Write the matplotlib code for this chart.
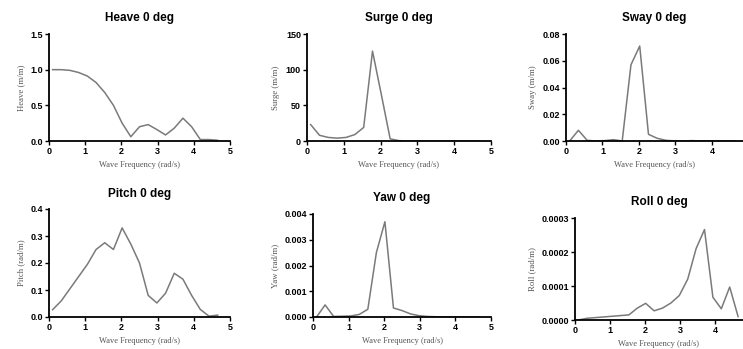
import numpy as np
import matplotlib.pyplot as plt

# wave frequency grid (rad/s)
freq = [0.1, 0.34, 0.58, 0.82, 1.06, 1.3, 1.54, 1.78, 2.02, 2.26,
        2.5, 2.74, 2.98, 3.22, 3.46, 3.7, 3.94, 4.18, 4.42, 4.66]

heave = [1.0, 1.0, 0.99, 0.96, 0.91, 0.82, 0.68, 0.5, 0.25, 0.06,
         0.2, 0.23, 0.16, 0.085, 0.18, 0.32, 0.2, 0.02, 0.02, 0.01]
surge = [23, 8, 5, 4, 5, 9, 19, 126, 65, 3,
         0.5, 0, 0, 0, 0, 0, 0, 0, 0, 0]
sway = [0.0, 0.008, 0.0005, 0.0, 0.0003, 0.001, 0.0, 0.057, 0.071, 0.005,
        0.002, 0.0005, 0.0001, 0.0, 0.0003, 0.0, 0.0, 0.0, 0.0, 0.0]
pitch = [0.027, 0.06, 0.105, 0.15, 0.195, 0.25, 0.275, 0.25, 0.33, 0.27,
         0.2, 0.08, 0.052, 0.088, 0.162, 0.14, 0.08, 0.028, 0.003, 0.007]
yaw = [0.0, 0.00047, 0.00002, 0.00003, 0.00004, 0.0001, 0.0003, 0.0025, 0.0037, 0.00035,
       0.00025, 0.00012, 0.00005, 0.00002, 0.00001, 0.0, 0.0, 0.0, 0.0, 0.0]
roll = [0.0, 0.000005, 0.000007, 0.000009, 0.000011, 0.000013, 0.000015, 0.000035, 0.000049, 0.000027,
        0.000035, 0.00005, 0.000072, 0.00012, 0.00021, 0.000266, 0.000067, 0.000033, 0.000097, 0.00001]

titles = ['Heave 0 deg', 'Surge 0 deg', 'Sway 0 deg', 'Pitch 0 deg', 'Yaw 0 deg', 'Roll 0 deg']
ylabels = ['Heave (m/m)', 'Surge (m/m)', 'Sway (m/m)', 'Pitch (rad/m)', 'Yaw (rad/m)', 'Roll (rad/m)']
series = [heave, surge, sway, pitch, yaw, roll]
yticks = [[0, 0.5, 1.0, 1.5], [0, 50, 100, 150], [0, 0.02, 0.04, 0.06, 0.08],
          [0, 0.1, 0.2, 0.3, 0.4], [0, 0.001, 0.002, 0.003, 0.004], [0, 0.0001, 0.0002, 0.0003]]
yfmt = ['{:.1f}', '{:.0f}', '{:.2f}', '{:.1f}', '{:.3f}', '{:.4f}']
xmax = [5, 5, 4.85, 5, 5, 4.8]
xticks = [[0, 1, 2, 3, 4, 5], [0, 1, 2, 3, 4, 5], [0, 1, 2, 3, 4],
          [0, 1, 2, 3, 4, 5], [0, 1, 2, 3, 4, 5], [0, 1, 2, 3, 4]]

W, H = 743, 349
# axes boxes in pixels: left, right, top, bottom
boxes = [(49, 230, 34, 141), (307, 491, 34, 141), (566, 743, 34, 141),
         (49, 230, 209, 317), (313, 491, 214, 317), (575, 743, 218, 320)]

fig = plt.figure(figsize=(W / 100, H / 100), dpi=100)
tickfont = dict(family='Liberation Sans', weight='bold', size=6.5)

for i in range(6):
    l, r, t, b = boxes[i]
    ax = fig.add_axes([l / W, 1 - b / H, (r - l) / W, (b - t) / H])
    ax.plot(freq, series[i], color='#7a7a7a', lw=1.1)
    ax.set_xlim(0, xmax[i])
    ax.set_ylim(0, yticks[i][-1])
    ax.set_xticks(xticks[i])
    ax.set_yticks(yticks[i])
    ax.set_xticklabels([str(v) for v in xticks[i]], **tickfont)
    ax.set_yticklabels([yfmt[i].format(v) for v in yticks[i]], **tickfont)
    for s in ['top', 'right']:
        ax.spines[s].set_visible(False)
    for s in ['left', 'bottom']:
        ax.spines[s].set_linewidth(1.3)
    ax.tick_params(width=1.0, length=2.8, pad=1.5)
    ax.set_title(titles[i], family='Liberation Sans', weight='bold', size=8.5, pad=9)
    ax.set_xlabel('Wave Frequency (rad/s)', family='Liberation Serif', size=6,
                  color='#555555', labelpad=3.5)
    ax.set_ylabel(ylabels[i], family='Liberation Serif', size=6.3, color='#555555', labelpad=4)

fig.savefig('out.png', dpi=100)
